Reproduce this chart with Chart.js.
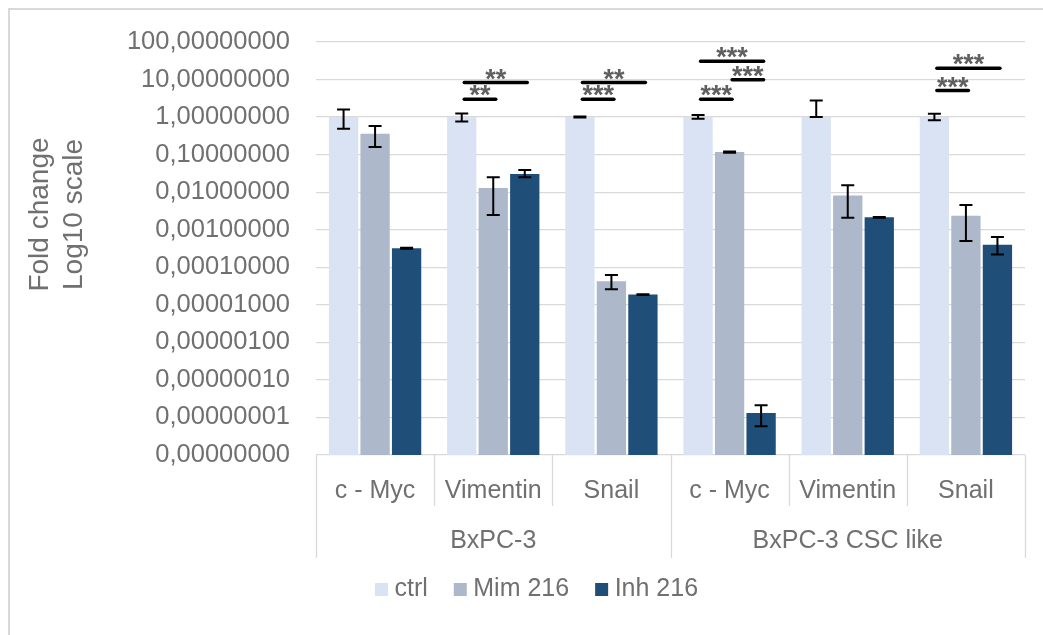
<!DOCTYPE html>
<html>
<head>
<meta charset="utf-8">
<script src="https://cdn.jsdelivr.net/npm/chart.js@4.4.1/dist/chart.umd.min.js"></script>
<style>
html,body{margin:0;padding:0;background:#fff;}
#wrap{width:1043px;height:635px;position:relative;background:#fff;}
canvas{display:block;}
</style>
</head>
<body>
<div id="wrap"><canvas id="c" width="1043" height="635"></canvas></div>
<script>
// ---------- data ----------
const categories = ['c - Myc', 'Vimentin', 'Snail', 'c - Myc', 'Vimentin', 'Snail'];
const groups = ['BxPC-3', 'BxPC-3 CSC like'];
const groupSizes = [3, 3];
const seriesNames = ['ctrl', 'Mim 216', 'Inh 216'];

const ctrlValues = [1, 1, 1, 1, 1, 1];
const mimValues  = [0.36, 0.0129, 4.25e-5, 0.117, 0.0082, 0.00237];
const inhValues  = [3.2e-4, 0.0305, 1.88e-5, 1.31e-8, 0.00214, 4.0e-4];

// error bar ends (low / high)
const ctrlErrLow  = [0.49, 0.76, 0.97, 0.90, 1.0, 0.83];
const ctrlErrHigh = [1.59, 1.25, 1.03, 1.13, 2.76, 1.22];
const mimErrLow   = [0.159, 0.00248, 2.6e-5, 0.112, 0.0021, 5.0e-4];
const mimErrHigh  = [0.576, 0.0248, 6.2e-5, 0.122, 0.0152, 0.00457];
const inhErrLow   = [3.1e-4, 0.0248, 1.84e-5, 5.8e-9, 0.0021, 2.2e-4];
const inhErrHigh  = [3.3e-4, 0.039, 1.92e-5, 2.1e-8, 0.00218, 6.4e-4];

const yTickExponents = [-9, -8, -7, -6, -5, -4, -3, -2, -1, 0, 1, 2];
const yAxisTitle = ['Fold change', 'Log10 scale'];

// significance brackets: category index, from series, to series, height (data value), label
const sigCategory = [1, 1, 2, 2, 3, 3, 3, 5, 5];
const sigFrom     = [0, 0, 0, 0, 0, 1, 0, 0, 0];
const sigTo       = [2, 1, 2, 1, 2, 2, 1, 2, 1];
const sigLevel    = [8.3, 3.0, 8.3, 3.0, 30.8, 9.8, 3.0, 20.1, 5.1];
const sigLabel    = ['**', '**', '**', '***', '***', '***', '***', '***', '***'];

// ---------- styles ----------
const FONT = "'Liberation Sans', Arial, sans-serif";
const TEXT = '#707070';
const GRID = '#d9d9d9';
const colors = ['#dae3f3', '#adb9ca', '#1f4e79'];
const seriesValues = [ctrlValues, mimValues, inhValues];
const errLows = [ctrlErrLow, mimErrLow, inhErrLow];
const errHighs = [ctrlErrHigh, mimErrHigh, inhErrHigh];

Chart.defaults.font.family = FONT;

const overlay = {
  id: 'overlay',
  afterDatasetsDraw(chart) {
    const ctx = chart.ctx, ys = chart.scales.y;
    ctx.save();
    // error bars
    ctx.strokeStyle = '#000';
    ctx.lineWidth = 2;
    errLows.forEach((lows, di) => {
      const meta = chart.getDatasetMeta(di);
      meta.data.forEach((bar, j) => {
        const x = bar.x;
        const yl = ys.getPixelForValue(lows[j]);
        const yh = ys.getPixelForValue(errHighs[di][j]);
        ctx.beginPath();
        ctx.moveTo(x, yl); ctx.lineTo(x, yh);
        ctx.moveTo(x - 6.5, yl); ctx.lineTo(x + 6.5, yl);
        ctx.moveTo(x - 6.5, yh); ctx.lineTo(x + 6.5, yh);
        ctx.stroke();
      });
    });
    // significance brackets
    ctx.font = 'bold 27px ' + FONT;
    ctx.textAlign = 'center';
    ctx.textBaseline = 'alphabetic';
    for (let k = 0; k < sigCategory.length; k++) {
      const c = sigCategory[k];
      const x1 = chart.getDatasetMeta(sigFrom[k]).data[c].x + 1;
      const x2 = chart.getDatasetMeta(sigTo[k]).data[c].x + 4;
      const y = ys.getPixelForValue(sigLevel[k]);
      ctx.strokeStyle = '#000';
      ctx.lineWidth = 3.5;
      ctx.lineCap = 'round';
      ctx.beginPath(); ctx.moveTo(x1 + 1.5, y); ctx.lineTo(x2 - 1.5, y); ctx.stroke();
      const m = ctx.measureText(sigLabel[k]);
      const center = y - 8.5;
      const base = center + (m.actualBoundingBoxAscent - m.actualBoundingBoxDescent) / 2;
      ctx.fillStyle = '#5f5f5f';
      ctx.fillText(sigLabel[k], (x1 + x2) / 2, base);
    }
    ctx.restore();
  },
  afterDraw(chart) {
    const ctx = chart.ctx, xs = chart.scales.x, ys = chart.scales.y;
    ctx.save();
    // category separators
    const n = categories.length;
    const w = (xs.right - xs.left) / n;
    const outer = [0];
    groupSizes.reduce((acc, s) => { outer.push(acc + s); return acc + s; }, 0);
    ctx.strokeStyle = GRID;
    ctx.lineWidth = 1.3;
    for (let i = 0; i <= n; i++) {
      const bx = Math.round(xs.left + i * w) + 0.5;
      const len = outer.includes(i) ? 103 : 51;
      ctx.beginPath(); ctx.moveTo(bx, ys.bottom); ctx.lineTo(bx, ys.bottom + len); ctx.stroke();
    }
    // group labels
    ctx.fillStyle = TEXT;
    ctx.font = '25px ' + FONT;
    ctx.textAlign = 'center';
    ctx.textBaseline = 'middle';
    let start = 0;
    groups.forEach((g, gi) => {
      const cx = xs.left + (start + groupSizes[gi] / 2) * w;
      ctx.fillText(g, cx, ys.bottom + 86);
      start += groupSizes[gi];
    });
    // y axis title (two lines, rotated)
    ctx.font = '28px ' + FONT;
    ctx.textBaseline = 'alphabetic';
    const cy = (ys.top + ys.bottom) / 2 - 34;
    [[48, yAxisTitle[0]], [82, yAxisTitle[1]]].forEach(([bx, t]) => {
      ctx.save();
      ctx.translate(bx, cy);
      ctx.rotate(-Math.PI / 2);
      ctx.fillText(t, 0, 0);
      ctx.restore();
    });
    // frame (top and left)
    ctx.strokeStyle = '#d9d9d9';
    ctx.lineWidth = 2;
    ctx.beginPath();
    ctx.moveTo(9, 635); ctx.lineTo(9, 9); ctx.lineTo(1043, 9);
    ctx.stroke();
    ctx.restore();
  }
};

new Chart(document.getElementById('c'), {
  type: 'bar',
  data: {
    labels: categories,
    datasets: seriesNames.map((name, i) => ({
      label: name,
      data: seriesValues[i],
      backgroundColor: colors[i],
      borderColor: 'rgba(0,0,0,0)',
      borderWidth: 0,
      categoryPercentage: 0.8,
      barPercentage: 0.93
    }))
  },
  options: {
    responsive: false,
    devicePixelRatio: 1,
    animation: false,
    layout: { padding: { left: 54, right: 18, top: 42, bottom: 23 } },
    plugins: {
      tooltip: { enabled: false },
      legend: {
        position: 'bottom',
        labels: {
          usePointStyle: true,
          pointStyle: 'rect',
          boxWidth: 1,
          boxHeight: 13,
          padding: 32,
          color: TEXT,
          font: { size: 25, family: FONT }
        }
      }
    },
    scales: {
      x: {
        type: 'category',
        offset: true,
        grid: { display: false, drawTicks: false },
        border: { display: false },
        ticks: { color: TEXT, font: { size: 25 }, padding: 21, maxRotation: 0, autoSkip: false },
        afterFit(s) { s.height = 90; }
      },
      y: {
        type: 'logarithmic',
        min: Math.pow(10, yTickExponents[0]),
        max: Math.pow(10, yTickExponents[yTickExponents.length - 1]),
        grid: { color: GRID, lineWidth: 1.3, drawTicks: false },
        border: { display: false },
        ticks: {
          color: TEXT,
          font: { size: 25.5 },
          padding: 26,
          autoSkip: false,
          callback: (v) => Number(v).toFixed(8).replace('.', ',')
        },
        afterBuildTicks(s) { s.ticks = yTickExponents.map(e => ({ value: Math.pow(10, e) })); },
        afterFit(s) { s.width = 316 - 54; }
      }
    }
  },
  plugins: [overlay]
});
</script>
</body>
</html>
